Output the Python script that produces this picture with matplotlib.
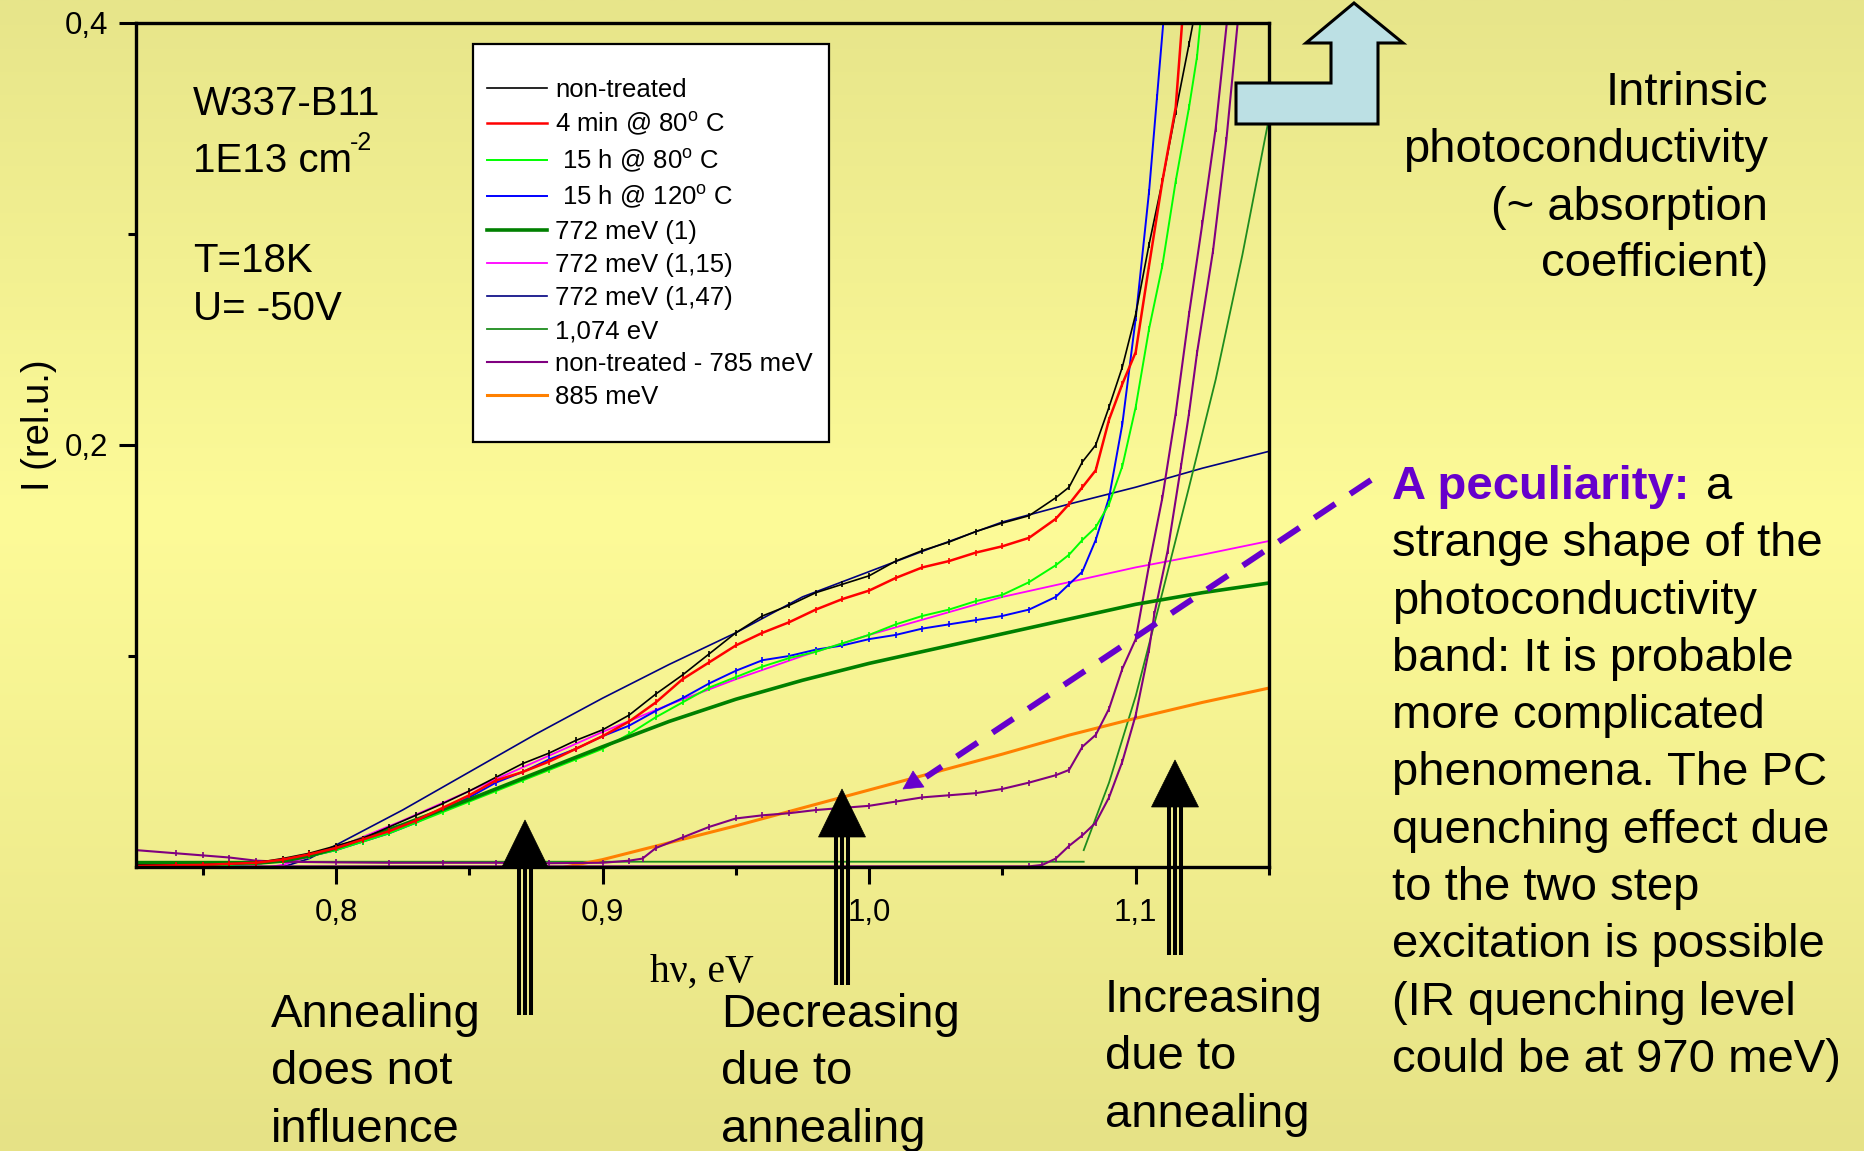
import numpy as np
import matplotlib
matplotlib.use("Agg")
import matplotlib.pyplot as plt
from matplotlib.transforms import Affine2D
from matplotlib.patches import Polygon, Rectangle
from matplotlib.lines import Line2D

plt.rcParams['font.family'] = ['Liberation Sans', 'DejaVu Sans']
plt.rcParams['mathtext.fontset'] = 'custom'
plt.rcParams['mathtext.rm'] = 'Liberation Sans'
plt.rcParams['mathtext.it'] = 'Liberation Sans:italic'
plt.rcParams['mathtext.bf'] = 'Liberation Sans:bold'

nan = np.nan

# ---------------- data ----------------
x_ticks = [0.8, 0.9, 1.0, 1.1]
x_tick_labels = ['0,8', '0,9', '1,0', '1,1']
y_ticks = [0.2, 0.4]
y_tick_labels = ['0,2', '0,4']

nt_x = [0.725, 0.74, 0.75, 0.76, 0.77, 0.78, 0.79, 0.80, 0.81, 0.82, 0.83, 0.84, 0.85, 0.86,
        0.87, 0.88, 0.89, 0.90, 0.91, 0.92, 0.93, 0.94, 0.95, 0.96, 0.97, 0.98, 0.99, 1.00,
        1.01, 1.02, 1.03, 1.04, 1.05, 1.06, 1.07, 1.075, 1.08, 1.085, 1.09, 1.095, 1.10,
        1.105, 1.11, 1.115, 1.12, 1.123]
nt_y = [0.001, 0.001, 0.001, 0.0015, 0.002, 0.004, 0.0065, 0.010, 0.0135, 0.019, 0.0245, 0.030,
        0.036, 0.0425, 0.049, 0.054, 0.060, 0.065, 0.072, 0.082, 0.091, 0.101, 0.111, 0.119,
        0.124, 0.130, 0.134, 0.138, 0.145, 0.150, 0.154, 0.159, 0.163, 0.1665, 0.175, 0.180,
        0.192, 0.200, 0.218, 0.237, 0.262, 0.295, 0.325, 0.358, 0.39, 0.41]

r80_x = [0.725, 0.74, 0.75, 0.76, 0.77, 0.78, 0.79, 0.80, 0.81, 0.82, 0.83, 0.84, 0.85, 0.86,
         0.87, 0.88, 0.89, 0.90, 0.91, 0.92, 0.93, 0.94, 0.95, 0.96, 0.97, 0.98, 0.99, 1.00,
         1.01, 1.02, 1.03, 1.04, 1.05, 1.06, 1.07, 1.075, 1.08, 1.085, 1.09, 1.095, 1.10,
         1.105, 1.11, 1.115, 1.118]
r80_y = [0.0005, 0.0008, 0.001, 0.0015, 0.002, 0.0035, 0.006, 0.009, 0.013, 0.017, 0.022, 0.028,
         0.034, 0.041, 0.045, 0.050, 0.056, 0.062, 0.069, 0.078, 0.089, 0.097, 0.105, 0.111,
         0.116, 0.122, 0.127, 0.131, 0.137, 0.142, 0.145, 0.149, 0.152, 0.156, 0.165, 0.172,
         0.180, 0.188, 0.212, 0.229, 0.244, 0.285, 0.325, 0.36, 0.41]

g80_x = [0.725, 0.74, 0.75, 0.76, 0.77, 0.78, 0.79, 0.80, 0.81, 0.82, 0.83, 0.84, 0.85, 0.86,
         0.87, 0.88, 0.89, 0.90, 0.91, 0.92, 0.93, 0.94, 0.95, 0.96, 0.97, 0.98, 0.99, 1.00,
         1.01, 1.02, 1.03, 1.04, 1.05, 1.06, 1.07, 1.075, 1.08, 1.085, 1.09, 1.095, 1.10,
         1.105, 1.11, 1.115, 1.12, 1.123, 1.125]
g80_y = [0.0008, 0.0008, 0.001, 0.001, 0.0015, 0.003, 0.005, 0.008, 0.012, 0.016, 0.021, 0.026,
         0.031, 0.036, 0.041, 0.046, 0.051, 0.056, 0.063, 0.071, 0.078, 0.085, 0.090, 0.095,
         0.099, 0.102, 0.106, 0.110, 0.115, 0.119, 0.122, 0.126, 0.129, 0.135, 0.143, 0.148,
         0.155, 0.161, 0.172, 0.190, 0.218, 0.255, 0.285, 0.325, 0.360, 0.384, 0.41]

b120_x = [0.725, 0.74, 0.75, 0.76, 0.77, 0.78, 0.79, 0.80, 0.81, 0.82, 0.83, 0.84, 0.85, 0.86,
          0.87, 0.88, 0.89, 0.90, 0.91, 0.92, 0.93, 0.94, 0.95, 0.96, 0.97, 0.98, 0.99, 1.00,
          1.01, 1.02, 1.03, 1.04, 1.05, 1.06, 1.07, 1.075, 1.08, 1.085, 1.09, 1.095, 1.10,
          1.105, 1.108, 1.111]
b120_y = [0.0008, 0.0008, 0.0008, 0.001, 0.0015, 0.003, 0.005, 0.008, 0.012, 0.016, 0.021, 0.027,
          0.033, 0.040, 0.045, 0.051, 0.056, 0.062, 0.067, 0.074, 0.080, 0.087, 0.093, 0.098,
          0.100, 0.103, 0.105, 0.108, 0.110, 0.113, 0.115, 0.117, 0.119, 0.122, 0.128, 0.134,
          0.140, 0.155, 0.175, 0.21, 0.26, 0.32, 0.365, 0.41]

f772_x = [0.725, 0.75, 0.772, 0.78, 0.79, 0.80, 0.825, 0.85, 0.875, 0.90, 0.925, 0.95, 0.975,
          1.00, 1.025, 1.05, 1.075, 1.10, 1.125, 1.15]
f772_y = [0.002, 0.002, 0.002, 0.0028, 0.0052, 0.009, 0.020, 0.032, 0.0445, 0.057, 0.069,
          0.0795, 0.0885, 0.0965, 0.1035, 0.1105, 0.1175, 0.1245, 0.130, 0.1346]

f115_x = [0.725, 0.75, 0.775, 0.78, 0.80, 0.825, 0.85, 0.875, 0.90, 0.925, 0.95, 0.975, 1.00,
          1.025, 1.05, 1.075, 1.10, 1.125, 1.15]
f115_y = [0.0, 0.0, 0.0, 0.001, 0.009, 0.022, 0.036, 0.050, 0.064, 0.077, 0.089, 0.100, 0.110,
          0.119, 0.128, 0.135, 0.142, 0.148, 0.1545]

f147_x = [0.725, 0.75, 0.78, 0.79, 0.80, 0.825, 0.85, 0.875, 0.90, 0.925, 0.95, 0.975, 1.00,
          1.025, 1.05, 1.075, 1.10, 1.125, 1.15]
f147_y = [0.0, 0.0, 0.0, 0.004, 0.0104, 0.027, 0.045, 0.063, 0.080, 0.096, 0.111, 0.128, 0.140,
          0.152, 0.1635, 0.172, 0.180, 0.189, 0.197]

f1074_x = [0.725, 1.0805, nan, 1.0805, 1.09, 1.10, 1.11, 1.12, 1.13, 1.14, 1.15]
f1074_y = [0.0025, 0.0025, nan, 0.008, 0.040, 0.081, 0.130, 0.180, 0.231, 0.290, 0.355]

d785_x = [0.725, 0.74, 0.75, 0.76, 0.77, 0.78, 0.80, 0.82, 0.84, 0.86, 0.88, 0.90, 0.91, 0.915,
          0.92, 0.93, 0.94, 0.95, 0.96, 0.97, 0.98, 0.99, 1.00, 1.01, 1.02, 1.03, 1.04, 1.05,
          1.06, 1.07, 1.075, 1.08, 1.085, 1.09, 1.095, 1.10, 1.105, 1.11, 1.115, 1.12, 1.125,
          1.13, 1.135]
d785_y = [0.008, 0.0065, 0.0055, 0.0045, 0.003, 0.0025, 0.0022, 0.002, 0.002, 0.002, 0.0018,
          0.002, 0.003, 0.004, 0.009, 0.014, 0.019, 0.023, 0.0245, 0.0255, 0.027, 0.028, 0.029,
          0.031, 0.033, 0.034, 0.035, 0.037, 0.040, 0.0435, 0.046, 0.057, 0.0626, 0.075, 0.094,
          0.108, 0.143, 0.175, 0.215, 0.262, 0.305, 0.350, 0.41]

d785b_x = [0.725, 1.06, 1.065, 1.07, 1.075, 1.08, 1.085, 1.09, 1.095, 1.10, 1.105, 1.107,
           1.112, 1.117, 1.12, 1.123, 1.129, 1.134, 1.139]
d785b_y = [0.0003, 0.0003, 0.001, 0.004, 0.010, 0.015, 0.021, 0.033, 0.050, 0.072, 0.103, 0.12,
           0.15, 0.19, 0.215, 0.2436, 0.292, 0.3445, 0.41]

f885_x = [0.886, 0.90, 0.925, 0.95, 0.975, 1.00, 1.025, 1.05, 1.075, 1.10, 1.125, 1.15]
f885_y = [0.0, 0.0035, 0.0115, 0.0195, 0.028, 0.0365, 0.045, 0.0535, 0.0625, 0.0705, 0.078, 0.0848]

labels = ['non-treated', '4 min @ 80$^{\\mathrm{o}}$ C', ' 15 h @ 80$^{\\mathrm{o}}$ C',
          ' 15 h @ 120$^{\\mathrm{o}}$ C', '772 meV (1)', '772 meV (1,15)', '772 meV (1,47)',
          '1,074 eV', 'non-treated - 785 meV', '885 meV']
colors = ['#000000', '#FF0000', '#00FF00', '#0000FF', '#008000', '#FF00FF', '#000080',
          '#1E8C1E', '#800080', '#FF8000']
widths = [1.2, 1.8, 1.4, 1.4, 2.6, 1.3, 1.2, 1.3, 1.5, 2.2]

# ---------------- figure ----------------
W, H = 1864, 1151
fig = plt.figure(figsize=(W / 100, H / 100), dpi=100)
PX = Affine2D().scale(1 / W, -1 / H).translate(0, 1) + fig.transFigure

bg = fig.add_axes([0, 0, 1, 1], zorder=-10)
t = np.linspace(0, 1, 400)
r = np.interp(t, [0, 0.45, 1], [231, 253, 230])
g = np.interp(t, [0, 0.45, 1], [229, 251, 226])
b = np.interp(t, [0, 0.45, 1], [138, 152, 134])
grad = np.stack([r, g, b], axis=-1)[:, None, :] / 255.0
bg.imshow(grad, aspect='auto', extent=[0, 1, 0, 1], origin='upper')
bg.axis('off')

ax = fig.add_axes([136 / W, 1 - 867 / H, (1269 - 136) / W, (867 - 23) / H])
ax.set_facecolor('none')

meas = dict(marker='|', markersize=5, markeredgewidth=1.2)
ax.plot(f147_x, f147_y, color=colors[6], lw=widths[6])
ax.plot(f115_x, f115_y, color=colors[5], lw=widths[5])
ax.plot(f1074_x, f1074_y, color=colors[7], lw=widths[7])
ax.plot(f885_x, f885_y, color=colors[9], lw=widths[9])
ax.plot(d785b_x, d785b_y, color=colors[8], lw=widths[8], **meas)
ax.plot(d785_x, d785_y, color=colors[8], lw=widths[8], **meas)
ax.plot(b120_x, b120_y, color=colors[3], lw=widths[3], **meas)
ax.plot(g80_x, g80_y, color=colors[2], lw=widths[2], **meas)
ax.plot(f772_x, f772_y, color=colors[4], lw=widths[4])
ax.plot(nt_x, nt_y, color=colors[0], lw=widths[0], **meas)
ax.plot(r80_x, r80_y, color=colors[1], lw=widths[1], **meas)

ax.set_xlim(0.725, 1.15)
ax.set_ylim(0, 0.4)
ax.set_xticks(x_ticks, labels=x_tick_labels)
ax.set_xticks([0.75, 0.85, 0.95, 1.05, 1.15], minor=True)
ax.set_yticks(y_ticks, labels=y_tick_labels)
ax.set_yticks([0.1, 0.3], minor=True)
ax.tick_params(which='major', direction='out', length=12.2, width=2.2, labelsize=22.5)
ax.tick_params(which='minor', direction='out', length=5.8, width=2.2)
ax.tick_params(axis='x', which='major', pad=10)
ax.tick_params(axis='y', which='major', pad=8)
for s in ax.spines.values():
    s.set_linewidth(2.4)

ax.set_xlabel('h\u03bd, eV', fontfamily='Liberation Serif', fontsize=28.5)
ax.xaxis.label.set_va('baseline')
ax.xaxis.set_label_coords((702 - 136) / 1133, (867 - 982) / 844)
ax.set_ylabel('I (rel.u.)', fontsize=27.5)
ax.yaxis.label.set_va('center')
ax.yaxis.set_label_coords((39 - 136) / 1133, (867 - 425) / 844)

# legend
handles = [Line2D([], [], color=c, lw=w) for c, w in zip(colors, widths)]
ax.add_patch(Rectangle((473, 44), 829 - 473, 442 - 44, transform=PX, facecolor='white',
                       edgecolor='black', lw=1.6, zorder=4.5, clip_on=False))
leg = ax.legend(handles, labels, loc='upper left', bbox_to_anchor=(487 / W, 1 - 78 / H),
                bbox_transform=fig.transFigure, frameon=False, borderpad=0, borderaxespad=0,
                handlelength=2.33, handletextpad=0.31, labelspacing=0.35, fontsize=18.5)
leg.set_zorder(6)

# ---------------- annotation texts ----------------
def ptext(x, y, s, **kw):
    fig.text(x, y, s, transform=PX, **kw)

ptext(193, 115, 'W337-B11', fontsize=29, va='baseline')
ptext(193, 172, '1E13 cm', fontsize=29, va='baseline')
ptext(350, 150, '-2', fontsize=18, va='baseline')
ptext(193, 272, 'T=18K', fontsize=29, va='baseline')
ptext(193, 320, 'U= -50V', fontsize=29, va='baseline')

for i, s in enumerate(['Intrinsic', 'photoconductivity', '(~ absorption', 'coefficient)']):
    ptext(1768, [105, 162, 220, 276][i], s, fontsize=34, ha='right', va='baseline')

ptext(1392, 499, 'A peculiarity:', fontsize=34, fontweight='bold', color='#6600CC', va='baseline')
ptext(1706, 499, 'a', fontsize=34, va='baseline')
right_lines = ['strange shape of the', 'photoconductivity', 'band: It is probable',
               'more complicated', 'phenomena. The PC', 'quenching effect due',
               'to the two step', 'excitation is possible', '(IR quenching level',
               'could be at 970 meV)']
for i, s in enumerate(right_lines):
    ptext(1392, 499 + 57.3 * (i + 1), s, fontsize=34, va='baseline')

for x0, y0, lines in [(271, 1027, ['Annealing', 'does not', 'influence']),
                      (721, 1027, ['Decreasing', 'due to', 'annealing']),
                      (1105, 1012, ['Increasing', 'due to', 'annealing'])]:
    for i, s in enumerate(lines):
        ptext(x0, y0 + 57.5 * i, s, fontsize=34, va='baseline')

# ---------------- arrows ----------------
def block_arrow(cx, tip, base, half, bottom):
    fig.add_artist(Polygon([(cx, tip), (cx - half, base), (cx + half, base)], closed=True,
                           facecolor='black', edgecolor='black', lw=0.5, transform=PX, zorder=20))
    for dx in (-6, 0, 6):
        fig.add_artist(Line2D([cx + dx, cx + dx], [base, bottom], color='black', lw=2.9,
                              solid_capstyle='butt', transform=PX, zorder=20))

block_arrow(525, 820, 867, 23, 1015)
block_arrow(842, 789, 837, 23.5, 985)
block_arrow(1175, 760, 807, 23.5, 955)

fig.add_artist(Polygon([(1354, 3), (1403, 43), (1378, 43), (1378, 124), (1236, 124), (1236, 83),
                        (1331, 83), (1331, 43), (1306, 43)], closed=True, facecolor='#BCE0E4',
                       edgecolor='black', lw=2.2, transform=PX, zorder=20))

fig.add_artist(Line2D([1371, 926], [480, 777], color='#6600CC', lw=4.3, linestyle=(0, (4.2, 3.0)),
                      dash_capstyle='butt', transform=PX, zorder=21))
fig.add_artist(Polygon([(913, 771), (903, 789), (924, 787)], closed=True, facecolor='#6600CC',
                       edgecolor='#6600CC', lw=0.5, transform=PX, zorder=21))

fig.savefig('out.png', dpi=100)
